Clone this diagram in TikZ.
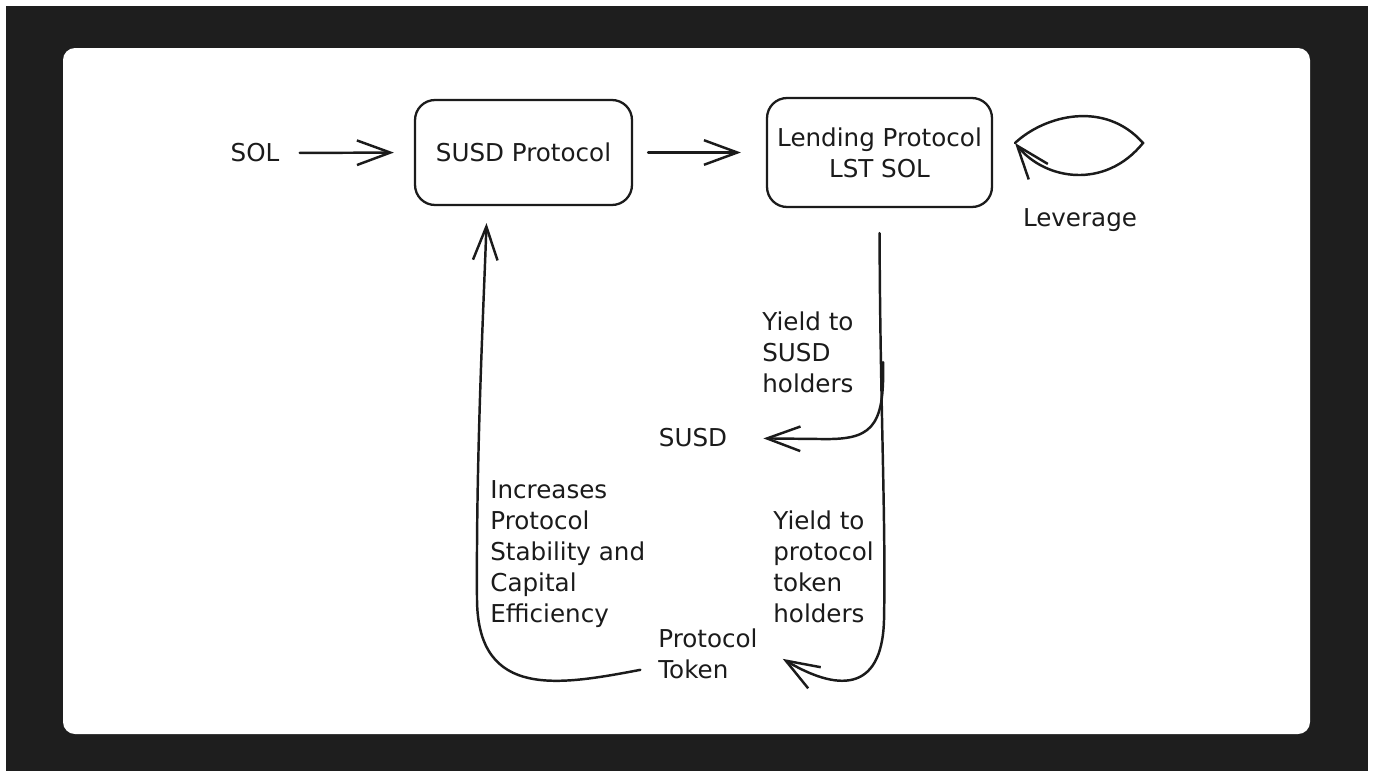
\documentclass[tikz,border=0pt]{standalone}
\usepackage{fontspec}
\setmainfont{DejaVu Sans}
\usetikzlibrary{arrows.meta}

\definecolor{bgdark}{HTML}{1E1E1E}
\definecolor{ink}{HTML}{1B1B1B}

\tikzset{
	box/.style={draw=ink, line width=1.3pt, rounded corners=0.4cm, minimum width=4.34cm, minimum height=2.1cm, align=center},
	txt/.style={align=left, inner sep=0pt},
	arr/.style={draw=ink, line width=1.4pt, line cap=round, -{Straight Barb[length=19pt,width=14pt]}}
}

\begin{document}
\begin{tikzpicture}[x=0.02cm, y=-0.02cm, every node/.style={text=ink, font=\fontsize{14pt}{17.6pt}\selectfont}]
		\useasboundingbox (0,0) rectangle (1381,771);
		\fill[white] (0,0) rectangle (1381,771);
		\fill[bgdark] (6,6) rectangle (1368,771);
		\fill[white, rounded corners=0.24cm] (63,48) rectangle (1310,734);

		\node[txt] (sol) at (255,153) {SOL};
		\node[box] (susd) at (523.5,152.5) {SUSD Protocol};
		\node[box, minimum width=4.5cm, minimum height=2.18cm] (lending) at (879.5,152.5) {Lending Protocol\\LST SOL};
		\node[txt] (lev) at (1080,220) {Leverage};
		\node[txt, anchor=west] (yieldsusd) at (762,352) {Yield to\\SUSD\\holders};
		\node[txt] (susdtxt) at (693,438) {SUSD};
		\node[txt, anchor=west] (increase) at (490,554) {Increases\\Protocol\\Stability and\\Capital\\Efficiency};
		\node[txt, anchor=west] (yieldtoken) at (773,567) {Yield to\\protocol\\token\\holders};
		\node[txt, anchor=west] (ptoken) at (658,654) {Protocol\\Token};

		\coordinate (levtip) at (1015,143);
		\coordinate (levend) at (1143,143);
		\coordinate (split) at (883,362);

		\draw[arr, shorten <=0.4cm, shorten >=0.4cm] (sol.east) -- (susd.west);
		\draw[arr, shorten <=0.3cm, shorten >=0.5cm] (susd.east) -- (lending.west);
		\draw[arr] (levtip) .. controls (1045,115) and (1105,100) .. (levend) .. controls (1105,190) and (1045,180) .. (levtip);
		\draw[arr, shorten <=0.5cm, shorten >=0.58cm] (lending.south) .. controls (880,400) and (886,520) .. (884,620) .. controls (882,695) and (835,690) .. ([yshift=0.2cm]ptoken.east);
		\draw[arr, shorten >=0.72cm] (split) .. controls (885,430) and (870,440) .. (820,439) -- (susdtxt.east);
		\draw[arr, shorten <=0.36cm, shorten >=0.34cm] ([yshift=-0.25cm]ptoken.west) .. controls (560,685) and (478,700) .. (477,600) .. controls (476,450) and (484,300) .. ([xshift=-0.73cm]susd.south);
\end{tikzpicture}
\end{document}
